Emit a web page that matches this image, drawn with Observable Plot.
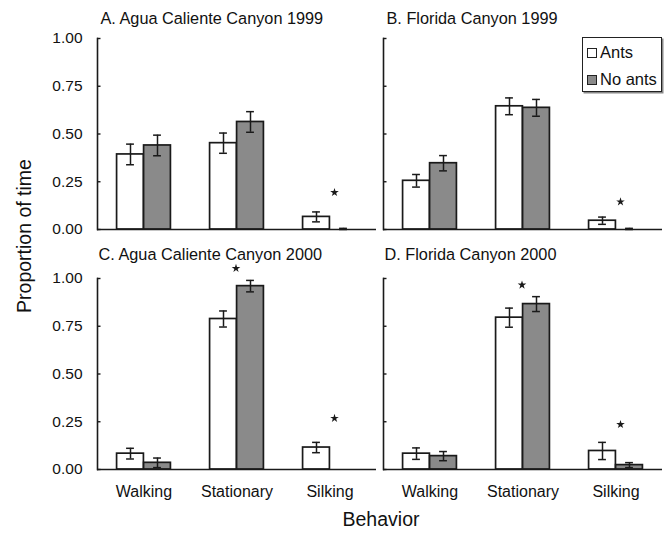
<!DOCTYPE html>
<html><head><meta charset="utf-8">
<script src="https://cdn.jsdelivr.net/npm/d3@7"></script>
<script src="https://cdn.jsdelivr.net/npm/@observablehq/plot@0.6"></script>
<style>
body{margin:0;background:#fff;font-family:"Liberation Sans",Arial,sans-serif;color:#111;}
#wrap{position:relative;width:666px;height:539px;overflow:hidden;}
#ylab{position:absolute;left:24px;top:236px;transform:translate(-50%,-50%) rotate(-90deg);font-size:19.5px;white-space:nowrap;}
#xlab{position:absolute;left:381px;top:519px;transform:translate(-50%,-50%);font-size:19.5px;white-space:nowrap;}
#legend{position:absolute;left:582px;top:37px;width:78px;height:53px;border:1.5px solid #222;background:#fff;box-shadow:1.5px 1.5px 0 #888;font-size:16.5px;}
#legend .row{position:absolute;left:4px;display:flex;align-items:center;}
#legend .sw{width:8px;height:8px;border:1.2px solid #222;margin-right:3px;}
</style></head><body><div id="wrap"></div>
<script>
const behaviors = ["Walking", "Stationary", "Silking"];
const treatments = ["Ants", "No ants"];
const sites = ["Agua Caliente Canyon", "Florida Canyon"];
const years = ["1999", "2000"];
const panelIds = ["A", "B", "C", "D"];
const panelTitles = ["A. Agua Caliente Canyon 1999", "B. Florida Canyon 1999", "C. Agua Caliente Canyon 2000", "D. Florida Canyon 2000"];
const panelSite = ["Agua Caliente Canyon", "Florida Canyon", "Agua Caliente Canyon", "Florida Canyon"];
const panelYear = ["1999", "1999", "2000", "2000"];

// means and standard errors, per panel, per treatment (order: Walking, Stationary, Silking)
const meanAntsA = [0.393, 0.452, 0.066];
const seAntsA = [0.054, 0.053, 0.026];
const meanNoAntsA = [0.440, 0.563, 0.0];
const seNoAntsA = [0.054, 0.054, 0.006];

const meanAntsB = [0.255, 0.645, 0.046];
const seAntsB = [0.033, 0.044, 0.019];
const meanNoAntsB = [0.347, 0.637, 0.0];
const seNoAntsB = [0.040, 0.044, 0.006];

const meanAntsC = [0.083, 0.788, 0.115];
const seAntsC = [0.028, 0.042, 0.027];
const meanNoAntsC = [0.035, 0.960, 0.0];
const seNoAntsC = [0.025, 0.030, 0.0];

const meanAntsD = [0.083, 0.795, 0.097];
const seAntsD = [0.030, 0.050, 0.045];
const meanNoAntsD = [0.070, 0.866, 0.023];
const seNoAntsD = [0.024, 0.039, 0.013];

const starPanel = ["A", "B", "C", "C", "D", "D"];
const starBehavior = ["Silking", "Silking", "Stationary", "Silking", "Stationary", "Silking"];
const starValue = [0.194, 0.145, 1.053, 0.268, 0.966, 0.236];

const yTicks = [0, 0.25, 0.5, 0.75, 1];

const meansByPanel = {
  A: [meanAntsA, seAntsA, meanNoAntsA, seNoAntsA],
  B: [meanAntsB, seAntsB, meanNoAntsB, seNoAntsB],
  C: [meanAntsC, seAntsC, meanNoAntsC, seNoAntsC],
  D: [meanAntsD, seAntsD, meanNoAntsD, seNoAntsD]
};

const rows = [];
panelIds.forEach((p, pi) => {
  const [ma, sa, mn, sn] = meansByPanel[p];
  behaviors.forEach((b, bi) => {
    rows.push({panel: p, site: panelSite[pi], year: panelYear[pi], behavior: b, treatment: "Ants", mean: ma[bi], se: sa[bi]});
    rows.push({panel: p, site: panelSite[pi], year: panelYear[pi], behavior: b, treatment: "No ants", mean: mn[bi], se: sn[bi]});
  });
});
const caps = rows.filter(d => d.se > 0).flatMap(d => [
  {...d, v: Math.max(0, d.mean - d.se)},
  {...d, v: d.mean + d.se}
]);
const stars = starPanel.map((p, i) => {
  const pi = panelIds.indexOf(p);
  return {site: panelSite[pi], year: panelYear[pi], behavior: starBehavior[i], value: starValue[i]};
});
const titles = panelTitles.map((t, i) => ({title: t, site: panelSite[i], year: panelYear[i]}));

// layout
const W = 666, H = 539;
const mL = 97, mR = 3, mT = 38, mB = 70;
const fxGap = 7, fyGap = 49;
const facetW = (W - mL - mR - fxGap) / 2;
const facetStep = facetW + fxGap;
const fyH = (H - mT - mB - fyGap) / 2;
const fyStep = fyH + fyGap;
const bw = facetW / behaviors.length;
const barW = 27;
const capHalf = 4;
const ink = "#1a1a1a";
const grayFill = "#8a8a8a";

const ants = rows.filter(d => d.treatment === "Ants");
const noAnts = rows.filter(d => d.treatment === "No ants");
const fac = {fx: "site", fy: "year"};

const chart = Plot.plot({
  width: W, height: H,
  marginLeft: mL, marginRight: mR, marginTop: mT, marginBottom: mB,
  style: {fontFamily: "'Liberation Sans', Arial, sans-serif", fontSize: "15.5px", color: "#111", background: "#fff"},
  fx: {domain: sites, paddingInner: fxGap / facetStep, paddingOuter: 0, axis: null},
  fy: {domain: years, paddingInner: fyGap / fyStep, paddingOuter: 0, axis: null},
  x: {domain: behaviors, padding: 0},
  y: {domain: [0, 1]},
  marks: [
    Plot.barY(ants.filter(d => d.mean > 0), {...fac, x: "behavior", y: "mean", fill: "white", stroke: ink, strokeWidth: 1.7, insetLeft: bw / 2 - barW, insetRight: bw / 2}),
    Plot.barY(noAnts.filter(d => d.mean > 0), {...fac, x: "behavior", y: "mean", fill: grayFill, stroke: ink, strokeWidth: 1.7, insetLeft: bw / 2, insetRight: bw / 2 - barW}),
    Plot.ruleX(ants.filter(d => d.se > 0), {...fac, x: "behavior", y1: d => Math.max(0, d.mean - d.se), y2: d => d.mean + d.se, stroke: ink, strokeWidth: 1.5, dx: -barW / 2}),
    Plot.ruleX(noAnts.filter(d => d.se > 0), {...fac, x: "behavior", y1: d => Math.max(0, d.mean - d.se), y2: d => d.mean + d.se, stroke: ink, strokeWidth: 1.5, dx: barW / 2}),
    Plot.tickY(caps.filter(d => d.treatment === "Ants"), {...fac, x: "behavior", y: "v", stroke: ink, strokeWidth: 1.5, insetLeft: bw / 2 - barW / 2 - capHalf, insetRight: bw / 2 + barW / 2 - capHalf}),
    Plot.tickY(caps.filter(d => d.treatment === "No ants"), {...fac, x: "behavior", y: "v", stroke: ink, strokeWidth: 1.5, insetLeft: bw / 2 + barW / 2 - capHalf, insetRight: bw / 2 - barW / 2 - capHalf}),
    Plot.ruleY([0], {stroke: ink, strokeWidth: 1.6}),
    Plot.frame({anchor: "left", stroke: ink, strokeWidth: 1.6}),
    Plot.tickY(yTicks, {y: d => d, stroke: ink, strokeWidth: 1.4, insetRight: facetW - 4}),
    Plot.axisY({ticks: yTicks, tickSize: 0, tickPadding: 15, tickFormat: d3.format(".2f"), fontSize: 15.5, fill: "#111"}),
    Plot.axisX({tickSize: 0, tickPadding: 16, fontSize: 16, fill: "#111", label: null}),
    Plot.dot(stars.filter(d => d.behavior === "Stationary"), {...fac, x: "behavior", y: "value", symbol: "star", r: 2.7, fill: ink, stroke: "none", dx: -1}),
    Plot.dot(stars.filter(d => d.behavior === "Silking"), {...fac, x: "behavior", y: "value", symbol: "star", r: 2.7, fill: ink, stroke: "none", dx: 4.5}),
    Plot.text(titles.filter(d => d.year === "1999"), {...fac, text: "title", frameAnchor: "top-left", textAnchor: "start", lineAnchor: "bottom", dx: 3, dy: -15, fontSize: 16.3, fill: "#111"}),
    Plot.text(titles.filter(d => d.year === "2000"), {...fac, text: "title", frameAnchor: "top-left", textAnchor: "start", lineAnchor: "bottom", dx: 1, dy: -19, fontSize: 16.3, fill: "#111"})
  ]
});

const wrap = document.getElementById("wrap");
wrap.appendChild(chart);

const ylab = document.createElement("div");
ylab.id = "ylab"; ylab.textContent = "Proportion of time";
wrap.appendChild(ylab);
const xlab = document.createElement("div");
xlab.id = "xlab"; xlab.textContent = "Behavior";
wrap.appendChild(xlab);

const legend = document.createElement("div");
legend.id = "legend";
treatments.forEach((t, i) => {
  const row = document.createElement("div");
  row.className = "row";
  row.style.top = (i === 0 ? 5 : 32) + "px";
  const sw = document.createElement("span");
  sw.className = "sw";
  sw.style.background = i === 0 ? "#fff" : grayFill;
  const lab = document.createElement("span");
  lab.textContent = t;
  row.appendChild(sw); row.appendChild(lab);
  legend.appendChild(row);
});
wrap.appendChild(legend);
</script></body></html>
